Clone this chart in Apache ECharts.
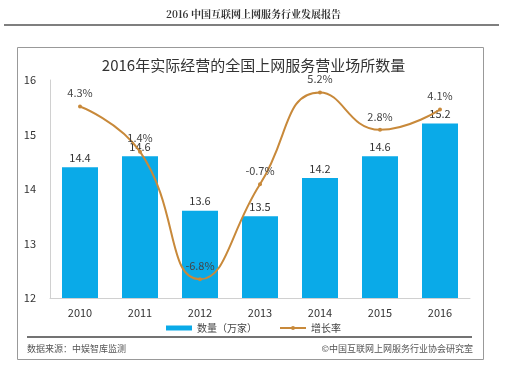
<!DOCTYPE html>
<html><head><meta charset="utf-8">
<script src="https://cdn.jsdelivr.net/npm/echarts@6/dist/echarts.min.js"></script>
<style>html,body{margin:0;padding:0;background:#fff}#c{width:507px;height:370px}</style>
</head><body><div id="c"></div>
<script>
const years = ['2010','2011','2012','2013','2014','2015','2016'];
const counts = [14.4, 14.6, 13.6, 13.5, 14.2, 14.6, 15.2];
const growth = [4.3, 1.4, -6.8, -0.7, 5.2, 2.8, 4.1];
const yTicks = [12, 13, 14, 15, 16];

const chart = echarts.init(document.getElementById('c'));
const cjk = '"Noto Sans CJK SC", "Noto Sans", sans-serif';
chart.setOption({
  animation: false,
  textStyle: { fontFamily: cjk },
  title: {
    text: '2016年实际经营的全国上网服务营业场所数量',
    left: 'center', top: 53,
    textStyle: { fontSize: 15, fontWeight: 'normal', color: '#333', fontFamily: cjk }
  },
  legend: {
    top: 318, left: 'center', itemGap: 22, itemWidth: 26, itemHeight: 5,
    textStyle: { fontSize: 10, color: '#444' },
    data: [{ name: '数量（万家）', icon: 'rect' }, { name: '增长率' }]
  },
  grid: { left: 50, right: 37, top: 80, bottom: 72 },
  xAxis: {
    type: 'category', data: years,
    axisLine: { onZero: false, lineStyle: { color: '#d0d0d0' } },
    axisTick: { show: false },
    axisLabel: { fontSize: 11, color: '#333', margin: 9 }
  },
  yAxis: [
    { type: 'value', min: yTicks[0], max: yTicks[yTicks.length - 1], interval: 1,
      axisLine: { show: true, lineStyle: { color: '#d0d0d0' } },
      axisTick: { show: false }, splitLine: { show: false },
      axisLabel: { fontSize: 11, color: '#333', margin: 14 } },
    { type: 'value', min: -8, max: 6, show: false, splitLine: { show: false } }
  ],
  series: [
    { name: '数量（万家）', type: 'bar', data: counts, barWidth: 36,
      itemStyle: { color: '#0AAAE8' },
      label: { show: true, position: 'top', fontSize: 11, color: '#333', distance: 4 } },
    { name: '增长率', type: 'line', yAxisIndex: 1, data: growth, smooth: true,
      symbol: 'circle', symbolSize: 4,
      lineStyle: { color: '#C8893A', width: 2 },
      itemStyle: { color: '#C8893A' },
      label: { show: true, position: 'top', fontSize: 11, color: '#444', distance: 6,
        formatter: p => p.value + '%' } }
  ],
  graphic: [
    { type: 'text', left: 'center', top: 9,
      style: { text: '2016 中国互联网上网服务行业发展报告', fontSize: 10, fill: '#333',
        fontFamily: '"Noto Serif CJK SC", "DejaVu Serif", serif', fontWeight: 'bold' } },
    { type: 'line', shape: { x1: 4, y1: 25, x2: 499, y2: 25 }, style: { stroke: '#555', lineWidth: 1.5 } },
    { type: 'rect', shape: { x: 17.5, y: 47.5, width: 466, height: 312 },
      style: { fill: 'none', stroke: '#999', lineWidth: 1 }, z: -1 },
    { type: 'line', shape: { x1: 27, y1: 337, x2: 472, y2: 337 }, style: { stroke: '#444', lineWidth: 1.5 } },
    { type: 'text', left: 27, top: 344,
      style: { text: '数据来源：中娱智库监测', fontSize: 9, fill: '#555', fontFamily: cjk } },
    { type: 'text', right: 34, top: 344,
      style: { text: '©中国互联网上网服务行业协会研究室', fontSize: 9, fill: '#555', fontFamily: cjk } }
  ]
});
</script></body></html>
